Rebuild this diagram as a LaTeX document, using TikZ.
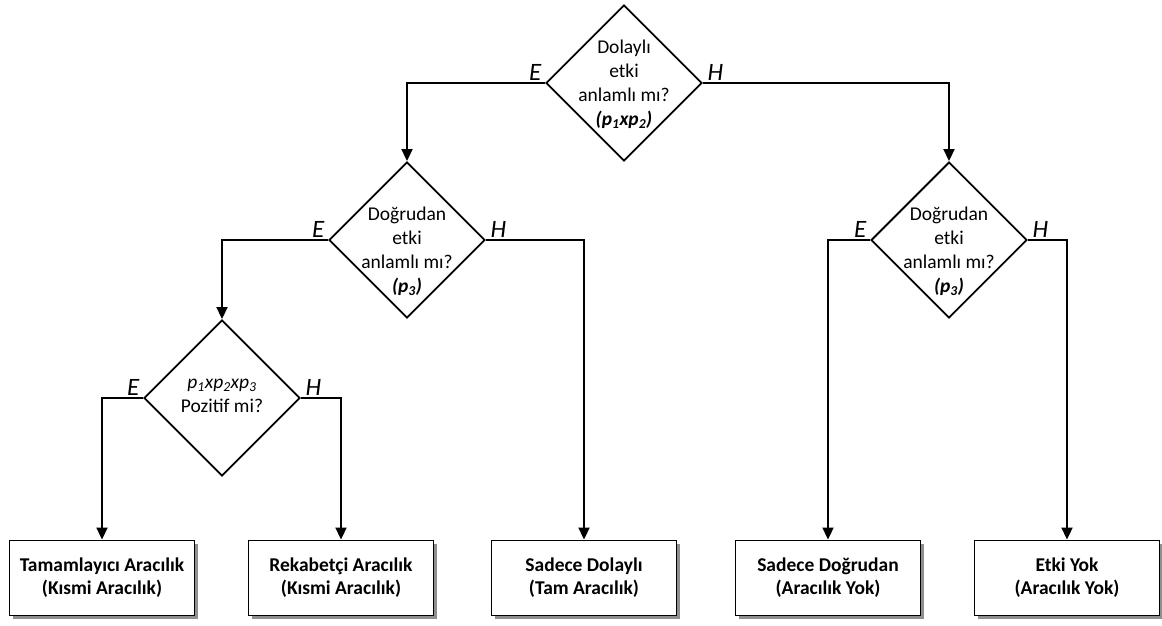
\documentclass[tikz,border=0pt]{standalone}
\usepackage{fontspec}
\setmainfont{Carlito}
\usetikzlibrary{shapes.geometric,arrows.meta,shadows}
\begin{document}
\begin{tikzpicture}[x=1pt,y=-1pt,
  decision/.style={diamond,draw,line width=1.9pt,minimum width=156pt,minimum height=156pt,inner sep=0pt},
  dtext/.style={align=center,font=\fontsize{19.5}{24}\selectfont,inner sep=0pt},
  outcome/.style={draw,line width=1.9pt,fill=white,minimum width=185pt,minimum height=75pt,
    align=center,font=\fontsize{19.5}{23}\selectfont\bfseries,
    drop shadow={shadow xshift=3pt,shadow yshift=-3pt,fill=black!55,opacity=0.8}},
  branch/.style={font=\fontsize{25}{26}\selectfont\itshape,inner sep=1.5pt},
  conn/.style={line width=1.9pt,-{Triangle[length=12pt,width=11pt]}}]
\useasboundingbox (0,0) rectangle (1162,625);

% decisions
\node[decision] (d1) at (624,83) {};
\node[dtext] (t1) at (624,84) {Dolaylı\\etki\\anlamlı mı?\\\textbf{\textit{(p\textsubscript{1}xp\textsubscript{2})}}};
\node[decision] (d2) at (407,240) {};
\node[dtext] (t2) at (407,251) {Doğrudan\\etki\\anlamlı mı?\\\textbf{\textit{(p\textsubscript{3})}}};
\node[decision] (d3) at (949,240) {};
\node[dtext] (t3) at (949,251) {Doğrudan\\etki\\anlamlı mı?\\\textbf{\textit{(p\textsubscript{3})}}};
\node[decision] (d4) at (222,398) {};
\node[dtext] (t4) at (222,396) {\textit{p\textsubscript{1}xp\textsubscript{2}xp\textsubscript{3}}\\Pozitif mi?};

% outcomes
\node[outcome] (b1) at (102,578) {Tamamlayıcı Aracılık\\(Kısmi Aracılık)};
\node[outcome] (b2) at (341,578) {Rekabetçi Aracılık\\(Kısmi Aracılık)};
\node[outcome] (b3) at (584,578) {Sadece Dolaylı\\(Tam Aracılık)};
\node[outcome] (b4) at (828,578) {Sadece Doğrudan\\(Aracılık Yok)};
\node[outcome] (b5) at (1067,578) {Etki Yok\\(Aracılık Yok)};

% branch labels
\foreach \d in {d1,d2,d3,d4}{
  \node[branch,anchor=south east] (\d e) at ([xshift=-2pt,yshift=1pt]\d.west) {E};
  \node[branch,anchor=south west] (\d h) at ([xshift=3pt,yshift=1pt]\d.east) {H};
}

% connectors
\draw[conn] (d1.west) -| (d2.north);
\draw[conn] (d1.east) -| (d3.north);
\draw[conn] (d2.west) -| (d4.north);
\draw[conn] (d2.east) -| (b3.north);
\draw[conn] (d4.west) -| (b1.north);
\draw[conn] (d4.east) -| (b2.north);
\draw[conn] (d3.west) -| (b4.north);
\draw[conn] (d3.east) -| (b5.north);
\end{tikzpicture}
\end{document}
